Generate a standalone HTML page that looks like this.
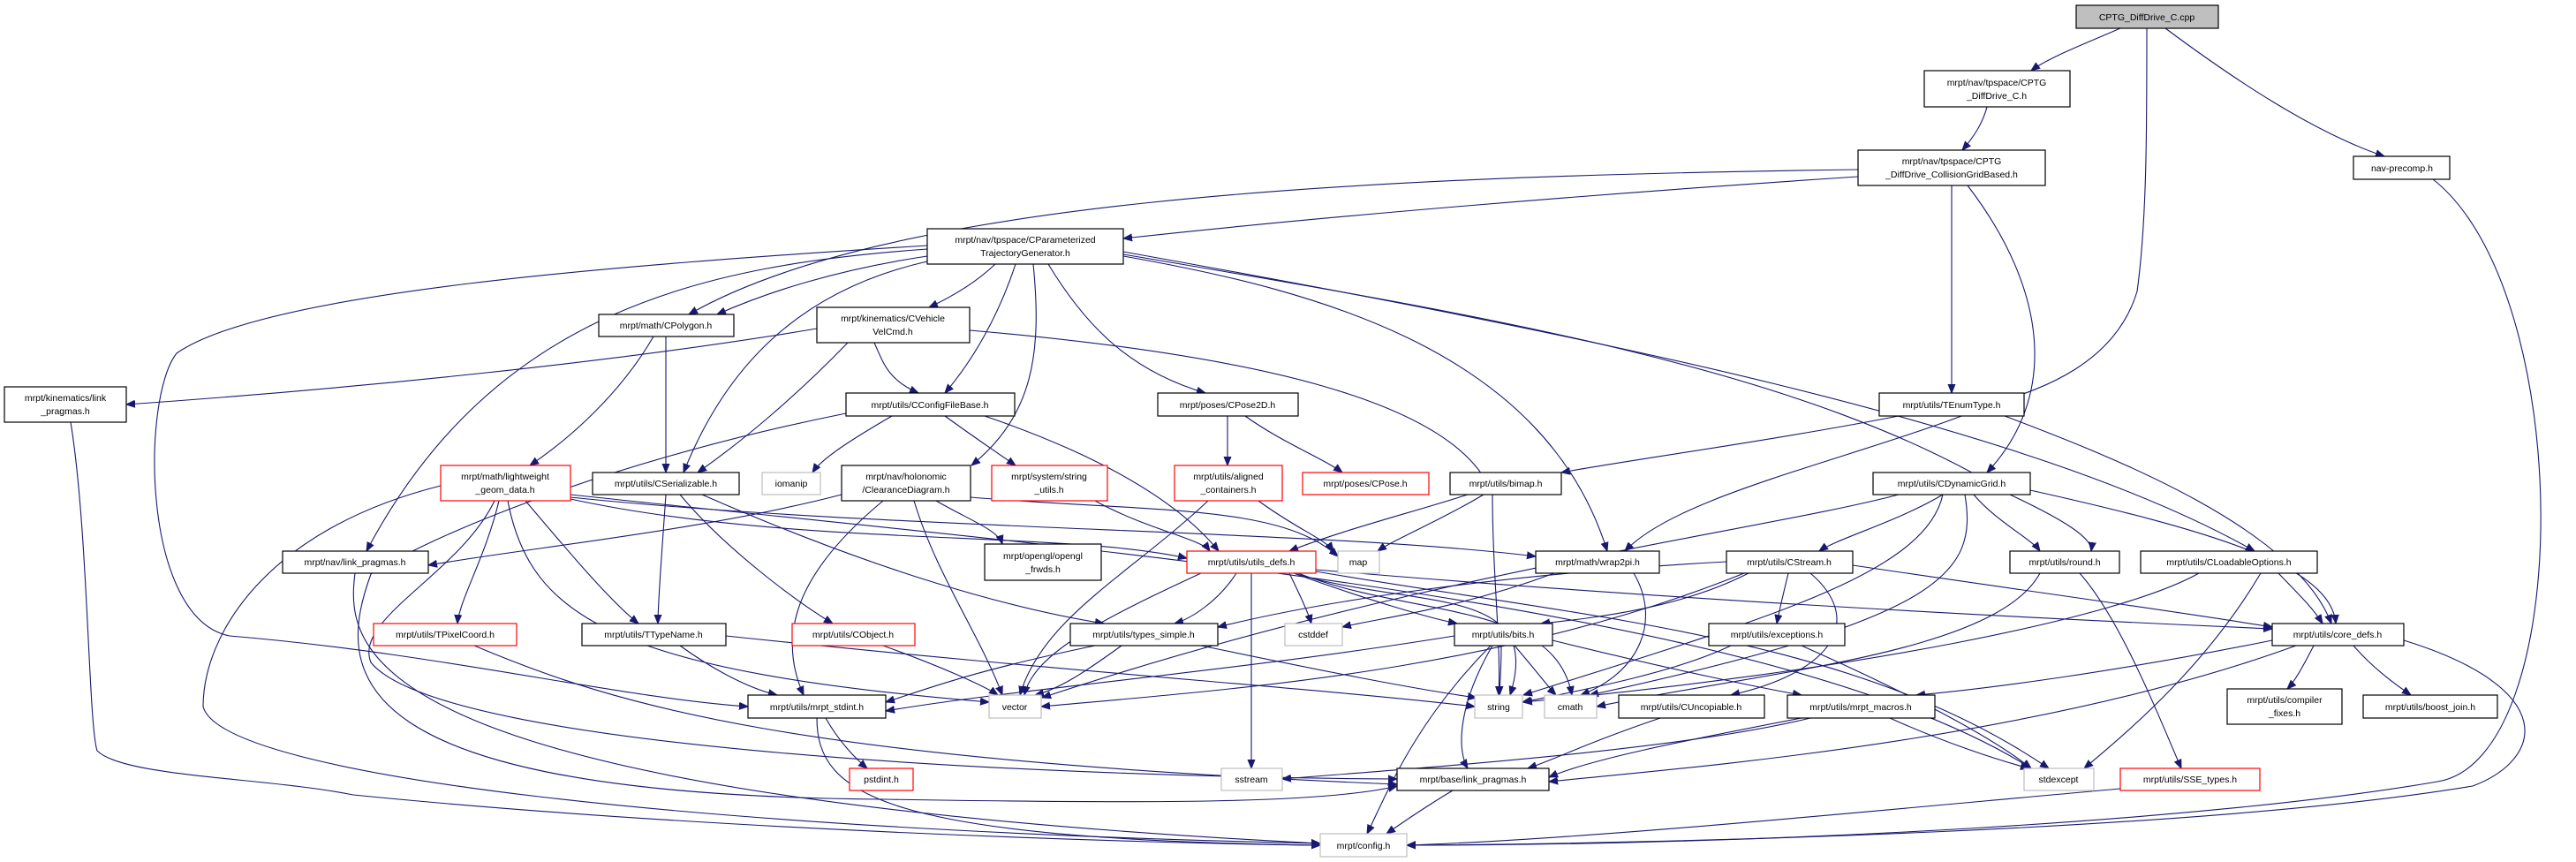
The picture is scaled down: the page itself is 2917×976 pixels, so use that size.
<!DOCTYPE html>
<html><head><meta charset="utf-8">
<style>
html,body{margin:0;padding:0;background:#fff;}
svg{display:block;}
text{font-family:"Liberation Sans",Arial,sans-serif;font-size:10.5px;fill:#000;text-anchor:middle;}
.n rect{fill:#fff;stroke:#000;stroke-width:1.2;}
.r rect{fill:#fff;stroke:#ff0000;stroke-width:1.2;}
.g rect{fill:#fff;stroke:#bfbfbf;stroke-width:1.2;}
.e path{fill:none;stroke:#191970;stroke-width:1.1;}
</style></head>
<body>
<svg width="2917" height="976" viewBox="0 0 2917 976" xmlns="http://www.w3.org/2000/svg">
<defs>
<marker id="a" viewBox="0 0 10 10" refX="10" refY="5" markerWidth="10" markerHeight="10" markerUnits="userSpaceOnUse" orient="auto">
<path d="M0,1 L10,5 L0,9 z" fill="#191970" stroke="#191970"/>
</marker>
</defs>
<g class="e" marker-end="url(#a)">
<path marker-end="url(#a)" d="M2401,32 C2360,50 2320,65 2300,80"/>
<path marker-end="url(#a)" d="M2452,32 C2530,90 2620,150 2700,177"/>
<path marker-end="url(#a)" d="M2431,32 C2431,150 2431,250 2420,330 C2390,430 2270,450 2250,460 C2100,520 1900,560 1840,624"/>
<path marker-end="url(#a)" d="M2250,121 C2245,140 2235,155 2222,170"/>
<path marker-end="url(#a)" d="M2104,200 C1800,220 1500,245 1272,270"/>
<path marker-end="url(#a)" d="M2104,192 C1500,200 1000,230 780,356"/>
<path marker-end="url(#a)" d="M2210,210 C2210,300 2210,380 2210,445"/>
<path marker-end="url(#a)" d="M2228,210 C2320,330 2330,450 2250,535"/>
<path marker-end="url(#a)" d="M2755,203 C2917,330 2917,860 2760,885 C2500,930 2000,957 1593,957"/>
<path marker-end="url(#a)" d="M1050,290 C950,305 870,330 812,356"/>
<path marker-end="url(#a)" d="M1127,299 C1105,320 1080,335 1052,348"/>
<path marker-end="url(#a)" d="M1150,299 C1130,360 1100,410 1070,445"/>
<path marker-end="url(#a)" d="M1050,296 C900,330 820,420 774,535"/>
<path marker-end="url(#a)" d="M1170,299 C1180,400 1170,470 1100,527"/>
<path marker-end="url(#a)" d="M1187,299 C1230,370 1280,420 1365,445"/>
<path marker-end="url(#a)" d="M1272,290 C1500,330 1750,400 1820,624"/>
<path marker-end="url(#a)" d="M1272,288 C1700,360 2050,420 2276,560 C2340,590 2370,610 2368,624"/>
<path marker-end="url(#a)" d="M1272,285 C1800,380 2300,480 2553,624"/>
<path marker-end="url(#a)" d="M1050,282 C800,300 560,350 415,624"/>
<path marker-end="url(#a)" d="M1050,278 C700,300 300,330 200,400 C160,450 160,700 260,720 C500,740 700,790 847,800"/>
<path marker-end="url(#a)" d="M740,381 C700,450 640,500 600,527"/>
<path marker-end="url(#a)" d="M754,381 C754,450 754,490 754,535"/>
<path marker-end="url(#a)" d="M925,372 C700,410 400,440 143,458"/>
<path marker-end="url(#a)" d="M990,388 C1000,410 1005,430 1040,445"/>
<path marker-end="url(#a)" d="M960,388 C900,450 840,500 790,535"/>
<path marker-end="url(#a)" d="M1098,374 C1400,400 1650,450 1690,560 C1690,650 1700,730 1697,787"/>
<path marker-end="url(#a)" d="M1010,471 C960,500 930,520 920,535"/>
<path marker-end="url(#a)" d="M1070,471 C1110,500 1140,520 1150,527"/>
<path marker-end="url(#a)" d="M1115,471 C1200,500 1320,550 1380,624"/>
<path marker-end="url(#a)" d="M958,468 C700,520 500,600 420,650 C380,760 380,900 1000,905 C1300,910 1500,910 1582,890"/>
<path marker-end="url(#a)" d="M80,478 C100,600 100,820 110,850 C140,880 300,880 400,900 C800,940 1300,955 1495,957"/>
<path marker-end="url(#a)" d="M499,550 C300,600 230,720 230,800 C250,880 800,940 1495,955"/>
<path marker-end="url(#a)" d="M565,567 C550,630 520,680 518,706"/>
<path marker-end="url(#a)" d="M595,567 C640,620 690,680 723,706"/>
<path marker-end="url(#a)" d="M646,565 C900,620 1200,600 1344,632"/>
<path marker-end="url(#a)" d="M646,563 C1000,600 1500,600 1739,630"/>
<path marker-end="url(#a)" d="M575,567 C600,700 700,760 1120,795"/>
<path marker-end="url(#a)" d="M646,560 C1200,620 2000,680 2300,870"/>
<path marker-end="url(#a)" d="M560,567 C520,650 400,700 420,750 C500,850 1200,880 1582,882"/>
<path marker-end="url(#a)" d="M754,560 C750,620 745,680 745,706"/>
<path marker-end="url(#a)" d="M770,560 C820,620 900,680 943,706"/>
<path marker-end="url(#a)" d="M795,560 C1000,650 1150,690 1250,706"/>
<path marker-end="url(#a)" d="M953,560 C800,600 600,620 485,640"/>
<path marker-end="url(#a)" d="M1060,567 C1100,590 1130,600 1135,616"/>
<path marker-end="url(#a)" d="M1035,567 C1060,650 1110,720 1135,787"/>
<path marker-end="url(#a)" d="M1000,567 C900,650 880,720 910,787"/>
<path marker-end="url(#a)" d="M1099,563 C1300,580 1450,570 1515,630"/>
<path marker-end="url(#a)" d="M402,649 C390,740 410,900 1495,955"/>
<path marker-end="url(#a)" d="M1240,567 C1300,600 1360,610 1370,624"/>
<path marker-end="url(#a)" d="M1368,567 C1280,650 1180,700 1155,787"/>
<path marker-end="url(#a)" d="M1425,567 C1470,600 1500,610 1510,624"/>
<path marker-end="url(#a)" d="M1390,471 C1390,500 1390,510 1390,527"/>
<path marker-end="url(#a)" d="M1410,471 C1450,500 1500,520 1520,535"/>
<path marker-end="url(#a)" d="M1662,560 C1600,580 1520,600 1460,624"/>
<path marker-end="url(#a)" d="M1680,560 C1630,590 1580,610 1560,624"/>
<path marker-end="url(#a)" d="M2150,471 C2000,500 1850,520 1768,535"/>
<path marker-end="url(#a)" d="M2270,471 C2400,520 2600,600 2640,706"/>
<path marker-end="url(#a)" d="M2200,560 C2150,590 2080,610 2060,624"/>
<path marker-end="url(#a)" d="M2235,560 C2260,590 2300,610 2310,624"/>
<path marker-end="url(#a)" d="M2299,555 C2500,600 2640,640 2645,706"/>
<path marker-end="url(#a)" d="M2225,560 C2240,650 2200,700 1800,787"/>
<path marker-end="url(#a)" d="M2200,560 C2180,650 2000,700 1725,787"/>
<path marker-end="url(#a)" d="M2150,560 C2000,600 1600,650 1180,790"/>
<path marker-end="url(#a)" d="M2490,649 C2400,700 2100,760 1725,795"/>
<path marker-end="url(#a)" d="M2560,649 C2500,750 2420,820 2360,870"/>
<path marker-end="url(#a)" d="M2580,649 C2610,680 2620,690 2630,706"/>
<path marker-end="url(#a)" d="M1400,649 C1380,680 1350,700 1330,706"/>
<path marker-end="url(#a)" d="M1460,649 C1470,670 1480,690 1485,706"/>
<path marker-end="url(#a)" d="M1465,649 C1550,680 1620,700 1650,706"/>
<path marker-end="url(#a)" d="M1417,649 C1417,750 1417,820 1417,870"/>
<path marker-end="url(#a)" d="M1360,649 C1250,700 1170,740 1160,787"/>
<path marker-end="url(#a)" d="M1470,649 C1600,700 1760,680 1780,787"/>
<path marker-end="url(#a)" d="M1465,649 C1600,690 1750,660 1710,787"/>
<path marker-end="url(#a)" d="M1490,645 C1900,680 2300,700 2573,712"/>
<path marker-end="url(#a)" d="M1490,647 C1800,700 2100,720 2320,870"/>
<path marker-end="url(#a)" d="M1850,649 C1880,700 1860,760 1790,787"/>
<path marker-end="url(#a)" d="M1760,649 C1650,690 1560,700 1520,710"/>
<path marker-end="url(#a)" d="M1955,636 C1700,650 1500,680 1379,710"/>
<path marker-end="url(#a)" d="M2098,640 C2300,670 2450,690 2573,710"/>
<path marker-end="url(#a)" d="M2025,649 C2020,670 2015,690 2012,706"/>
<path marker-end="url(#a)" d="M1980,649 C1900,690 1800,700 1745,706"/>
<path marker-end="url(#a)" d="M1975,649 C1700,760 1400,780 1179,800"/>
<path marker-end="url(#a)" d="M2050,649 C2110,700 2080,760 1960,787"/>
<path marker-end="url(#a)" d="M537,731 C700,800 900,860 1582,888"/>
<path marker-end="url(#a)" d="M770,731 C810,760 850,780 880,787"/>
<path marker-end="url(#a)" d="M822,720 C1200,760 1500,780 1670,800"/>
<path marker-end="url(#a)" d="M1000,731 C1080,760 1120,780 1130,787"/>
<path marker-end="url(#a)" d="M935,813 C950,840 970,860 982,870"/>
<path marker-end="url(#a)" d="M925,813 C925,900 1000,950 1495,957"/>
<path marker-end="url(#a)" d="M1240,731 C1100,760 1050,780 1003,795"/>
<path marker-end="url(#a)" d="M1270,731 C1230,760 1200,780 1172,787"/>
<path marker-end="url(#a)" d="M1360,731 C1500,760 1600,780 1672,790"/>
<path marker-end="url(#a)" d="M1647,720 C1400,760 1150,780 1003,805"/>
<path marker-end="url(#a)" d="M1700,731 C1700,760 1698,780 1698,787"/>
<path marker-end="url(#a)" d="M1715,731 C1740,760 1755,780 1762,787"/>
<path marker-end="url(#a)" d="M1688,731 C1600,820 1570,900 1548,944"/>
<path marker-end="url(#a)" d="M1690,731 C1650,800 1650,850 1662,870"/>
<path marker-end="url(#a)" d="M1758,725 C1900,760 2000,780 2040,787"/>
<path marker-end="url(#a)" d="M1960,731 C1900,760 1800,780 1724,795"/>
<path marker-end="url(#a)" d="M2040,731 C2150,780 2250,830 2300,870"/>
<path marker-end="url(#a)" d="M2355,649 C2400,700 2440,800 2470,870"/>
<path marker-end="url(#a)" d="M2310,649 C2260,740 2000,760 1808,800"/>
<path marker-end="url(#a)" d="M2620,731 C2610,750 2600,770 2590,780"/>
<path marker-end="url(#a)" d="M2665,731 C2690,760 2720,780 2730,787"/>
<path marker-end="url(#a)" d="M2722,725 C2900,780 2880,860 2800,890 C2500,940 1900,955 1593,957"/>
<path marker-end="url(#a)" d="M2573,725 C2400,760 2250,780 2170,787"/>
<path marker-end="url(#a)" d="M2600,731 C2300,840 1900,870 1754,885"/>
<path marker-end="url(#a)" d="M1880,813 C1800,840 1760,860 1730,870"/>
<path marker-end="url(#a)" d="M2050,813 C1900,850 1600,870 1452,882"/>
<path marker-end="url(#a)" d="M2140,813 C2200,840 2260,860 2298,870"/>
<path marker-end="url(#a)" d="M2040,813 C1900,840 1800,860 1754,880"/>
<path marker-end="url(#a)" d="M1645,895 C1620,910 1590,930 1570,944"/>
<path marker-end="url(#a)" d="M2401,893 C2100,920 1800,950 1593,957"/>
</g>
<g class="g"><rect x="2351" y="6" width="161" height="26" style="fill:#bfbfbf;stroke:#000"/><text x="2431" y="23">CPTG_DiffDrive_C.cpp</text></g>
<g class="n"><rect x="2179" y="80" width="165" height="41"/><text x="2261" y="97">mrpt/nav/tpspace/CPTG</text><text x="2261" y="112">_DiffDrive_C.h</text></g>
<g class="n"><rect x="2104" y="170" width="212" height="40"/><text x="2210" y="186">mrpt/nav/tpspace/CPTG</text><text x="2210" y="201">_DiffDrive_CollisionGridBased.h</text></g>
<g class="n"><rect x="2665" y="177" width="109" height="26"/><text x="2720" y="194">nav-precomp.h</text></g>
<g class="n"><rect x="1050" y="259" width="222" height="40"/><text x="1161" y="275">mrpt/nav/tpspace/CParameterized</text><text x="1161" y="290">TrajectoryGenerator.h</text></g>
<g class="n"><rect x="678" y="356" width="153" height="25"/><text x="754" y="372">mrpt/math/CPolygon.h</text></g>
<g class="n"><rect x="925" y="348" width="173" height="40"/><text x="1011" y="364">mrpt/kinematics/CVehicle</text><text x="1011" y="379">VelCmd.h</text></g>
<g class="n"><rect x="5" y="438" width="138" height="40"/><text x="74" y="454">mrpt/kinematics/link</text><text x="74" y="469">_pragmas.h</text></g>
<g class="n"><rect x="958" y="445" width="191" height="26"/><text x="1053" y="462">mrpt/utils/CConfigFileBase.h</text></g>
<g class="n"><rect x="1311" y="445" width="159" height="26"/><text x="1390" y="462">mrpt/poses/CPose2D.h</text></g>
<g class="n"><rect x="2128" y="445" width="164" height="26"/><text x="2210" y="462">mrpt/utils/TEnumType.h</text></g>
<g class="r"><rect x="499" y="527" width="147" height="40"/><text x="572" y="543">mrpt/math/lightweight</text><text x="572" y="558">_geom_data.h</text></g>
<g class="n"><rect x="671" y="535" width="166" height="25"/><text x="754" y="551">mrpt/utils/CSerializable.h</text></g>
<g class="g"><rect x="863" y="535" width="66" height="25"/><text x="896" y="551">iomanip</text></g>
<g class="n"><rect x="953" y="527" width="146" height="40"/><text x="1026" y="543">mrpt/nav/holonomic</text><text x="1026" y="558">/ClearanceDiagram.h</text></g>
<g class="r"><rect x="1123" y="527" width="131" height="40"/><text x="1188" y="543">mrpt/system/string</text><text x="1188" y="558">_utils.h</text></g>
<g class="r"><rect x="1330" y="527" width="122" height="40"/><text x="1391" y="543">mrpt/utils/aligned</text><text x="1391" y="558">_containers.h</text></g>
<g class="r"><rect x="1475" y="535" width="143" height="25"/><text x="1546" y="551">mrpt/poses/CPose.h</text></g>
<g class="n"><rect x="1642" y="535" width="126" height="25"/><text x="1705" y="551">mrpt/utils/bimap.h</text></g>
<g class="n"><rect x="2121" y="535" width="178" height="25"/><text x="2210" y="551">mrpt/utils/CDynamicGrid.h</text></g>
<g class="n"><rect x="320" y="624" width="165" height="25"/><text x="402" y="640">mrpt/nav/link_pragmas.h</text></g>
<g class="n"><rect x="1115" y="616" width="132" height="41"/><text x="1181" y="633">mrpt/opengl/opengl</text><text x="1181" y="648">_frwds.h</text></g>
<g class="r"><rect x="1344" y="624" width="146" height="25"/><text x="1417" y="640">mrpt/utils/utils_defs.h</text></g>
<g class="g"><rect x="1515" y="624" width="47" height="25"/><text x="1538" y="640">map</text></g>
<g class="n"><rect x="1739" y="624" width="140" height="25"/><text x="1809" y="640">mrpt/math/wrap2pi.h</text></g>
<g class="n"><rect x="1955" y="624" width="143" height="25"/><text x="2026" y="640">mrpt/utils/CStream.h</text></g>
<g class="n"><rect x="2276" y="624" width="124" height="25"/><text x="2338" y="640">mrpt/utils/round.h</text></g>
<g class="n"><rect x="2424" y="624" width="200" height="25"/><text x="2524" y="640">mrpt/utils/CLoadableOptions.h</text></g>
<g class="r"><rect x="423" y="706" width="162" height="25"/><text x="504" y="722">mrpt/utils/TPixelCoord.h</text></g>
<g class="n"><rect x="659" y="706" width="163" height="25"/><text x="740" y="722">mrpt/utils/TTypeName.h</text></g>
<g class="r"><rect x="897" y="706" width="139" height="25"/><text x="966" y="722">mrpt/utils/CObject.h</text></g>
<g class="n"><rect x="1212" y="706" width="167" height="25"/><text x="1295" y="722">mrpt/utils/types_simple.h</text></g>
<g class="g"><rect x="1455" y="706" width="65" height="25"/><text x="1487" y="722">cstddef</text></g>
<g class="n"><rect x="1647" y="706" width="111" height="25"/><text x="1702" y="722">mrpt/utils/bits.h</text></g>
<g class="n"><rect x="1935" y="706" width="154" height="25"/><text x="2012" y="722">mrpt/utils/exceptions.h</text></g>
<g class="n"><rect x="2573" y="706" width="149" height="25"/><text x="2647" y="722">mrpt/utils/core_defs.h</text></g>
<g class="n"><rect x="847" y="787" width="156" height="26"/><text x="925" y="804">mrpt/utils/mrpt_stdint.h</text></g>
<g class="g"><rect x="1120" y="787" width="59" height="26"/><text x="1149" y="804">vector</text></g>
<g class="g"><rect x="1670" y="787" width="54" height="26"/><text x="1697" y="804">string</text></g>
<g class="g"><rect x="1749" y="787" width="59" height="26"/><text x="1778" y="804">cmath</text></g>
<g class="n"><rect x="1833" y="787" width="165" height="26"/><text x="1915" y="804">mrpt/utils/CUncopiable.h</text></g>
<g class="n"><rect x="2024" y="787" width="167" height="26"/><text x="2107" y="804">mrpt/utils/mrpt_macros.h</text></g>
<g class="n"><rect x="2522" y="780" width="130" height="40"/><text x="2587" y="796">mrpt/utils/compiler</text><text x="2587" y="811">_fixes.h</text></g>
<g class="n"><rect x="2676" y="787" width="152" height="26"/><text x="2752" y="804">mrpt/utils/boost_join.h</text></g>
<g class="r"><rect x="962" y="870" width="72" height="25"/><text x="998" y="886">pstdint.h</text></g>
<g class="g"><rect x="1383" y="870" width="69" height="25"/><text x="1417" y="886">sstream</text></g>
<g class="n"><rect x="1582" y="870" width="172" height="25"/><text x="1668" y="886">mrpt/base/link_pragmas.h</text></g>
<g class="g"><rect x="2292" y="870" width="79" height="25"/><text x="2331" y="886">stdexcept</text></g>
<g class="r"><rect x="2401" y="870" width="158" height="25"/><text x="2480" y="886">mrpt/utils/SSE_types.h</text></g>
<g class="g"><rect x="1495" y="944" width="98" height="26"/><text x="1544" y="961">mrpt/config.h</text></g>
</svg>
</body></html>
